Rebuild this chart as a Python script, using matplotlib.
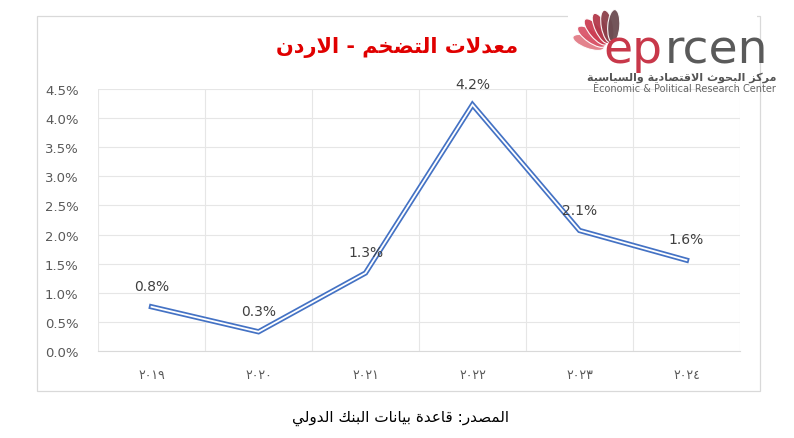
import numpy as np
import matplotlib
matplotlib.use('Agg')
import matplotlib.pyplot as plt
from matplotlib.patches import Rectangle, Ellipse
from matplotlib.ticker import FuncFormatter, MultipleLocator

# data
years = ['٢٠١٩', '٢٠٢٠', '٢٠٢١', '٢٠٢٢', '٢٠٢٣', '٢٠٢٤']
inflation = [0.76, 0.33, 1.34, 4.23, 2.07, 1.56]

title_txt = 'معدلات التضخم - الاردن'
source_txt = 'المصدر: قاعدة بيانات البنك الدولي'
logo_ar = 'مركز البحوث الاقتصادية والسياسية'
logo_en = 'Economic & Political Research Center'

# tiny arabic shaper (matplotlib has no shaping / rtl)
DUAL = {'ب': 0xFE8F, 'ت': 0xFE95, 'ث': 0xFE99, 'ج': 0xFE9D, 'ح': 0xFEA1, 'خ': 0xFEA5,
        'س': 0xFEB1, 'ش': 0xFEB5, 'ص': 0xFEB9, 'ض': 0xFEBD, 'ط': 0xFEC1, 'ظ': 0xFEC5,
        'ع': 0xFEC9, 'غ': 0xFECD, 'ف': 0xFED1, 'ق': 0xFED5, 'ك': 0xFED9, 'ل': 0xFEDD,
        'م': 0xFEE1, 'ن': 0xFEE5, 'ه': 0xFEE9, 'ي': 0xFEF1}
RIGHT = {'ا': 0xFE8D, 'ة': 0xFE93, 'د': 0xFEA9, 'ذ': 0xFEAB, 'ر': 0xFEAD, 'ز': 0xFEAF,
         'و': 0xFEED, 'ى': 0xFEEF, '\uFEFB': 0xFEFB}


def shape(s):
    s = s.replace('لا', '\uFEFB')
    out = []
    for k, c in enumerate(s):
        prev_j = k > 0 and s[k - 1] in DUAL
        next_j = k + 1 < len(s) and (s[k + 1] in DUAL or s[k + 1] in RIGHT)
        if c in DUAL:
            if prev_j and next_j:
                out.append(chr(DUAL[c] + 3))
            elif prev_j:
                out.append(chr(DUAL[c] + 1))
            elif next_j:
                out.append(chr(DUAL[c] + 2))
            else:
                out.append(chr(DUAL[c]))
        elif c in RIGHT:
            out.append(chr(RIGHT[c] + (1 if prev_j else 0)))
        else:
            out.append(c)
    return ''.join(out[::-1])


plt.rcParams['font.family'] = ['DejaVu Sans']

fig = plt.figure(figsize=(7.94, 4.39), dpi=100)
ax = fig.add_axes([98 / 794, 1 - 352 / 439, 642 / 794, 262 / 439])

x = np.arange(len(years))
ax.plot(x, inflation, color='#4472C4', lw=3.8, solid_joinstyle='miter', zorder=3)
ax.plot(x, inflation, color='white', lw=1.3, solid_joinstyle='miter', zorder=4)

for xi, v in zip(x, inflation):
    ax.annotate(f'{v:.1f}%', xy=(xi, v), xytext=(0, 15), textcoords='offset points',
                ha='center', va='center', fontsize=10, color='#404040', zorder=5)

ax.set_xlim(-0.5, len(years) - 0.5)
ax.set_ylim(0, 4.5)
ax.yaxis.set_major_locator(MultipleLocator(0.5))
ax.yaxis.set_major_formatter(FuncFormatter(lambda v, p: f'{v:.1f}%'))
ax.set_xticks(x)
ax.set_xticklabels(years)
ax.set_xticks(np.arange(-0.5, len(years), 1), minor=True)
ax.grid(True, axis='y', which='major', color='#E6E6E6', lw=0.8)
ax.grid(True, axis='x', which='minor', color='#E6E6E6', lw=0.8)
ax.tick_params(axis='both', which='both', length=0)
ax.tick_params(axis='y', labelsize=9.5, labelcolor='#595959', pad=14)
ax.tick_params(axis='x', labelsize=9, labelcolor='#595959', pad=12)
for side in ['top', 'right', 'left']:
    ax.spines[side].set_visible(False)
ax.spines['bottom'].set_color('#D9D9D9')

# overlay in pixel coords for frame, title, source and logo
ov = fig.add_axes([0, 0, 1, 1], zorder=10)
ov.set_xlim(0, 794)
ov.set_ylim(439, 0)
ov.axis('off')
ov.patch.set_alpha(0)

ov.add_patch(Rectangle((37, 17), 723, 375, fill=False, edgecolor='#D9D9D9', lw=0.9))

ov.text(397, 48, shape(title_txt), ha='center', va='center', fontsize=15,
        fontweight='bold', color='#E00000')
ov.text(400, 418, shape(source_txt), ha='center', va='center', fontsize=11, color='black')

# logo
ov.add_patch(Rectangle((568, 0), 189, 36, facecolor='white', edgecolor='none'))
petal_cols = ['#e27c87', '#d9556a', '#cc3d52', '#b3394b', '#8c3f4a', '#6b4c51']
for ang, col in zip(np.linspace(160, 86, len(petal_cols)), petal_cols):
    r = np.deg2rad(ang)
    cx = 612 + 25 * np.cos(r)
    cy = 52 - 25 * np.sin(r)
    ov.add_patch(Ellipse((cx, cy), 33, 12, angle=-ang, facecolor=col, edgecolor='white',
                         lw=0.8, alpha=0.95))
ov.text(603, 63, 'ep', ha='left', va='baseline', fontsize=34, color='#c8384a', zorder=5)
ov.text(665, 63, 'rcen', ha='left', va='baseline', fontsize=34, color='#5a5a5a', zorder=5)
ov.text(776, 78, shape(logo_ar), ha='right', va='center', fontsize=8,
        fontweight='bold', color='#555555')
ov.text(776, 89, logo_en, ha='right', va='center', fontsize=7, color='#666666')

fig.savefig('out.png', dpi=100, facecolor='white')
